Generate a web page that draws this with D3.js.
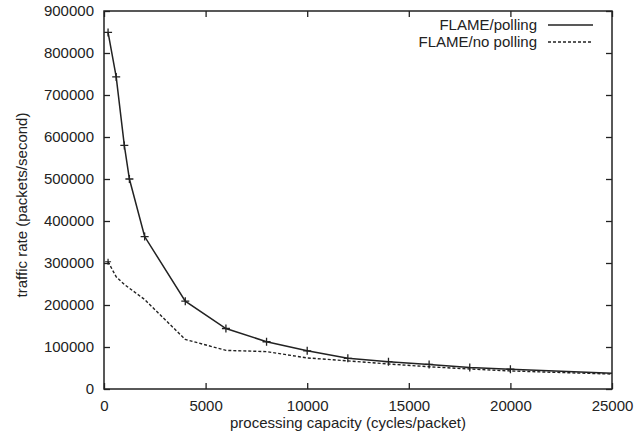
<!DOCTYPE html>
<html>
<head>
<meta charset="utf-8">
<script src="https://cdn.jsdelivr.net/npm/d3@7"></script>
<style>
  html, body { margin: 0; padding: 0; background: #fff; }
  svg { display: block; }
  text { font-family: "Liberation Sans", Arial, Helvetica, sans-serif; fill: #222; }
</style>
</head>
<body>
<svg id="chart" width="635" height="444"></svg>
<script>
// ---- data ----
const pollingX = [200, 600, 1000, 1250, 2000, 4000, 6000, 8000, 10000, 12000, 14000, 16000, 18000, 20000, 25000];
const pollingY = [849000, 743000, 580000, 500000, 363000, 209000, 144000, 112500, 91000, 73000, 65000, 58500, 51000, 47000, 37500];
const noPollingX = [200, 600, 1000, 1250, 2000, 4000, 6000, 8000, 10000, 12000, 14000, 16000, 18000, 20000, 22000, 24000, 25000];
const noPollingY = [303000, 267000, 249000, 240000, 213000, 118000, 92000, 89000, 74000, 67000, 59500, 53000, 47500, 43000, 40000, 37000, 35700];
const xTicks = [0, 5000, 10000, 15000, 20000, 25000];
const yTicks = [0, 100000, 200000, 300000, 400000, 500000, 600000, 700000, 800000, 900000];
const seriesNames = ["FLAME/polling", "FLAME/no polling"];
const xTitle = "processing capacity (cycles/packet)";
const yTitle = "traffic rate (packets/second)";

// ---- layout ----
const L = 104, R = 612, T = 11, B = 389;
const ink = "#222";
const svg = d3.select("#chart");
const x = d3.scaleLinear().domain([0, 25000]).range([L, R]);
const y = d3.scaleLinear().domain([0, 900000]).range([B, T]);
const tickLen = 6;

// axes (ticks inward, mirrored)
const gx = svg.append("g").attr("transform", `translate(0,${B})`)
  .call(d3.axisBottom(x).tickValues(xTicks).tickFormat(d3.format("d")).tickSize(-tickLen).tickPadding(8));
const gxt = svg.append("g").attr("transform", `translate(0,${T})`)
  .call(d3.axisTop(x).tickValues(xTicks).tickFormat("").tickSize(-tickLen));
const gy = svg.append("g").attr("transform", `translate(${L},0)`)
  .call(d3.axisLeft(y).tickValues(yTicks).tickFormat(d3.format("d")).tickSize(-tickLen).tickPadding(10));
const gyr = svg.append("g").attr("transform", `translate(${R},0)`)
  .call(d3.axisRight(y).tickValues(yTicks).tickFormat("").tickSize(-tickLen));
[gx, gxt, gy, gyr].forEach(g => {
  g.select(".domain").remove();
  g.selectAll(".tick line").attr("stroke", ink).attr("stroke-width", 1.3);
  g.selectAll(".tick text").attr("font-size", 15).attr("fill", ink)
    .style("font-family", '"Liberation Sans", Arial, sans-serif');
});
gx.selectAll(".tick text").attr("dy", "0.9em");

// frame
svg.append("rect").attr("x", L).attr("y", T).attr("width", R - L).attr("height", B - T)
  .attr("fill", "none").attr("stroke", ink).attr("stroke-width", 1.5);

// axis titles
svg.append("text").attr("x", 348).attr("y", 428).attr("text-anchor", "middle")
  .attr("font-size", 15).text(xTitle);
svg.append("text").attr("transform", `translate(27,205) rotate(-90)`)
  .attr("text-anchor", "middle").attr("font-size", 15).text(yTitle);

// lines
const line = d3.line().x(d => x(d[0])).y(d => y(d[1]));
const pol = pollingX.map((v, i) => [v, pollingY[i]]);
const nop = noPollingX.map((v, i) => [v, noPollingY[i]]);

svg.append("path").datum(nop).attr("d", line).attr("fill", "none")
  .attr("stroke", ink).attr("stroke-width", 1.4).attr("stroke-dasharray", "3,2");
svg.append("path").datum(pol).attr("d", line).attr("fill", "none")
  .attr("stroke", ink).attr("stroke-width", 1.5);

// plus markers on polling series
const m = 4;
svg.append("g").selectAll("path").data(pol.filter(d => d[0] < 25000)).join("path")
  .attr("d", d => `M${x(d[0]) - m},${y(d[1])}H${x(d[0]) + m}M${x(d[0])},${y(d[1]) - m}V${y(d[1]) + m}`)
  .attr("stroke", ink).attr("stroke-width", 1.3);
// small tick marker on first no-polling point
svg.append("path")
  .attr("d", `M${x(noPollingX[0]) - 3},${y(noPollingY[0])}H${x(noPollingX[0]) + 3}M${x(noPollingX[0])},${y(noPollingY[0]) - 3}V${y(noPollingY[0]) + 3}`)
  .attr("stroke", ink).attr("stroke-width", 1.2);

// legend
const legY = [25, 42];
seriesNames.forEach((name, i) => {
  svg.append("text").attr("x", 537).attr("y", legY[i]).attr("dy", "0.35em")
    .attr("text-anchor", "end").attr("font-size", 15).text(name);
  svg.append("line").attr("x1", 548).attr("x2", 593).attr("y1", legY[i]).attr("y2", legY[i])
    .attr("stroke", ink).attr("stroke-width", i === 0 ? 1.5 : 1.3)
    .attr("stroke-dasharray", i === 0 ? null : "3,2");
});
</script>
</body>
</html>
